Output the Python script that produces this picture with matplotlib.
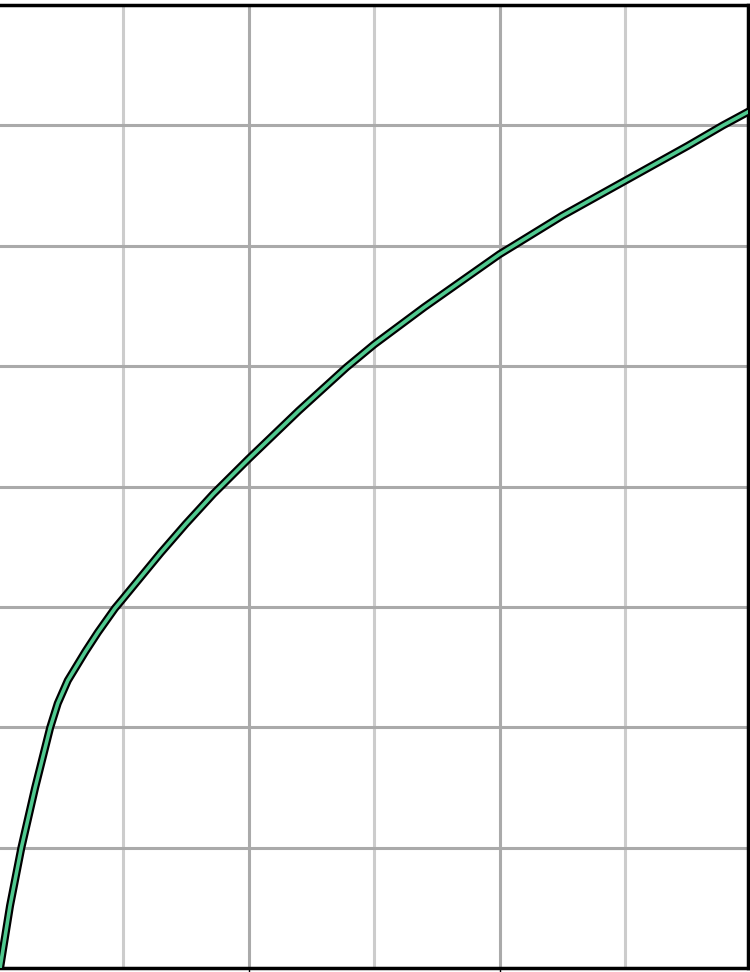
import matplotlib
matplotlib.use("Agg")
from matplotlib import pyplot as plt
from matplotlib.ticker import MultipleLocator

# curve values
xs = [0.02, 0.10, 0.19, 0.30, 0.42, 0.48, 0.56, 0.70, 0.80, 0.936, 1.00, 1.30, 1.50,
      1.72, 2.00, 2.40, 2.78, 3.00, 3.40, 4.00, 4.11, 4.50, 5.00, 5.50, 5.78, 6.10]
ys = [0.00, 0.52, 1.00, 1.50, 2.00, 2.20, 2.39, 2.63, 2.79, 2.99, 3.07, 3.45, 3.69,
      3.94, 4.23, 4.63, 4.99, 5.18, 5.49, 5.93, 6.00, 6.25, 6.54, 6.83, 7.00, 7.18]

fig = plt.figure(figsize=(7.5, 9.72), dpi=100)
ax = fig.add_axes([-2.5 / 750, 3.7 / 972, 750.5 / 750, 963.3 / 972])

ax.set_xlim(0, 5.98)
ax.set_ylim(0, 8)
ax.xaxis.set_major_locator(MultipleLocator(2))
ax.xaxis.set_minor_locator(MultipleLocator(1))
ax.yaxis.set_major_locator(MultipleLocator(1))

ax.grid(which="major", color="#aaaaaa", lw=2.2, zorder=0)
ax.grid(which="minor", axis="x", color="#cccccc", lw=2.2, zorder=0)
ax.set_axisbelow(True)

ax.tick_params(which="both", labelbottom=False, labelleft=False)
ax.tick_params(which="minor", length=0)
ax.tick_params(axis="y", length=0)
ax.tick_params(axis="x", which="major", direction="out", length=4, width=1, color="black")

for s in ax.spines.values():
    s.set_linewidth(2.5)
    s.set_color("black")

ax.plot(xs, ys, color="black", lw=5.8, solid_capstyle="butt", solid_joinstyle="round", zorder=3)
ax.plot(xs, ys, color="#50c98f", lw=2.6, solid_joinstyle="round", zorder=4)

fig.savefig("out.png", dpi=100)
